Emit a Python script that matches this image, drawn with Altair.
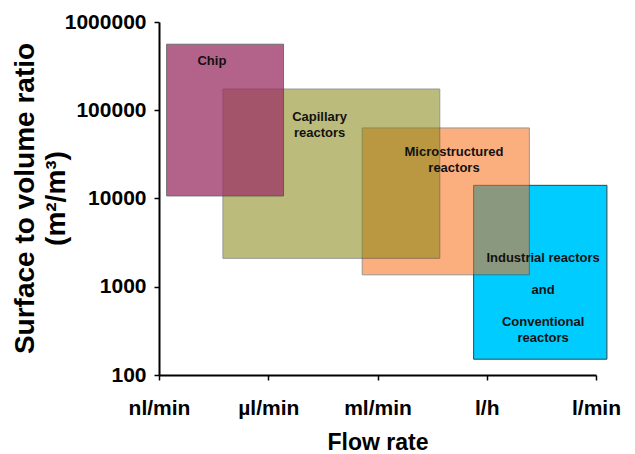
import altair as alt
import pandas as pd

# Reactor regions (drawn bottom -> top)
names = ["Industrial", "Microstructured", "Capillary", "Chip"]
x_start = [2.88, 1.86, 0.585, 0.07]
x_end = [4.10, 3.39, 2.57, 1.14]
y_low = [151, 1365, 2100, 10700]
y_high = [14100, 63000, 174000, 560000]
fill_colors = ["#00ccff", "#f96f15", "#858511", "#9c3365"]
fill_opacity = [1.0, 0.55, 0.55, 0.76]

# Labels inside the regions (y = first line of each label)
label_text = ["Industrial reactors", "and", "Conventional\nreactors",
              "Microstructured\nreactors", "Capillary\nreactors", "Chip"]
label_x = [3.516, 3.516, 3.516, 2.70, 1.47, 0.484]
label_y = [2125, 923, 400, 33700, 84000, 361000]

# Axes
tick_positions = [0, 1, 2, 3, 4]
tick_labels = ["nl/min", "µl/min", "ml/min", "l/h", "l/min"]
y_ticks = [100, 1000, 10000, 100000, 1000000]

rects = pd.DataFrame({"name": names, "x0": x_start, "x1": x_end,
                      "y0": y_low, "y1": y_high, "op": fill_opacity})
labels = pd.DataFrame({"text": label_text, "x": label_x, "y": label_y})

label_js = "[" + ",".join("'" + t + "'" for t in tick_labels) + "][datum.value]"

FONT = "Liberation Sans"

xscale = alt.Scale(domain=[0, 4], nice=False, zero=False)
yscale = alt.Scale(type="log", domain=[100, 1000000], nice=False)

xaxis = alt.Axis(values=tick_positions, labelExpr=label_js, title="Flow rate",
                 labelFontSize=21, labelPadding=17, titleFontSize=23,
                 titlePadding=13, labelFlush=False)
yaxis = alt.Axis(values=y_ticks, format="d",
                 title=["Surface to volume ratio", "(m²/m³)"],
                 labelFontSize=21, labelPadding=8, titleFontSize=28,
                 titleLineHeight=31, titleX=-148, titleY=176,
                 titleBaseline="top", titleAlign="center", titleAngle=270)

boxes = alt.Chart(rects).mark_rect(stroke="#404040", strokeWidth=1).encode(
    x=alt.X("x0:Q", scale=xscale, axis=xaxis),
    x2="x1:Q",
    y=alt.Y("y0:Q", scale=yscale, axis=yaxis),
    y2="y1:Q",
    color=alt.Color("name:N", scale=alt.Scale(domain=names, range=fill_colors), legend=None),
    opacity=alt.Opacity("op:Q", scale=None),
    order=alt.Order("x0:Q", sort="descending"),
)

texts = alt.Chart(labels).mark_text(
    font=FONT, fontWeight="bold", fontSize=13, color="#111111",
    lineBreak="\n", lineHeight=16, align="center", baseline="middle"
).encode(
    x=alt.X("x:Q", scale=xscale),
    y=alt.Y("y:Q", scale=yscale),
    text="text:N",
)

chart = alt.layer(boxes, texts).properties(
    width=437, height=353,
    autosize=alt.AutoSizeParams(type="none"),
    padding={"left": 151, "top": 14, "right": 30, "bottom": 79},
).configure_view(stroke=None).configure_axis(
    grid=False, domainColor="black", domainWidth=2, tickColor="black",
    tickWidth=1.5, tickSize=5, labelFont=FONT, titleFont=FONT,
    labelFontWeight="bold", titleFontWeight="bold", labelColor="black",
    titleColor="black",
)

chart.save("out.html", embed_options={"renderer": "svg", "actions": False})
